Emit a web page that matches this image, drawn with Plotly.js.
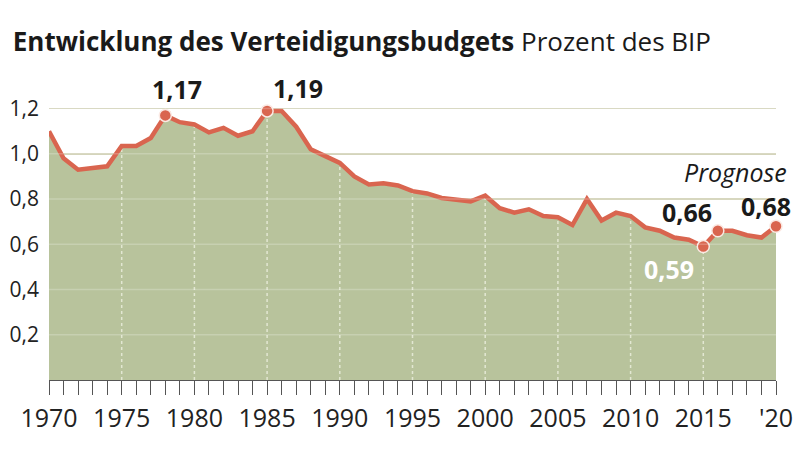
<!DOCTYPE html>
<html>
<head>
<meta charset="utf-8">
<script src="https://cdn.plot.ly/plotly-3.0.1.min.js"></script>
<style>html,body{margin:0;padding:0;background:#fff}#chart{width:800px;height:452px}</style>
</head>
<body>
<div id="chart"></div>
<script>
const years = [1970,1971,1972,1973,1974,1975,1976,1977,1978,1979,
               1980,1981,1982,1983,1984,1985,1986,1987,1988,1989,
               1990,1991,1992,1993,1994,1995,1996,1997,1998,1999,
               2000,2001,2002,2003,2004,2005,2006,2007,2008,2009,
               2010,2011,2012,2013,2014,2015,2016,2017,2018,2019,2020];
const budget = [1.10,0.98,0.93,0.94,0.945,1.035,1.035,1.07,1.17,1.14,
                1.13,1.095,1.115,1.08,1.10,1.19,1.19,1.12,1.02,0.99,
                0.96,0.90,0.865,0.87,0.86,0.835,0.825,0.805,0.795,0.79,
                0.815,0.76,0.74,0.755,0.725,0.72,0.685,0.80,0.705,0.74,
                0.725,0.675,0.66,0.63,0.62,0.59,0.66,0.66,0.64,0.63,0.68];
const yTicks = [0.2,0.4,0.6,0.8,1.0,1.2];
const yTickText = ['0,2','0,4','0,6','0,8','1,0','1,2'];
const labelYears = [1978,1985,2015,2016,2020];
const labelTexts = ['1,17','1,19','0,59','0,66','0,68'];
const guideYears = [1975,1980,1985,1990,1995,2000,2005,2010,2015];

const FONT = '"Open Sans", "DejaVu Sans", sans-serif';
const LINE = '#d9654f';
const FILL = '#b8c39c';

const valOf = y => budget[years.indexOf(y)];

// vertical dotted guides inside the area
const gx = [], gy = [];
guideYears.forEach(y => { gx.push(y, y, null); gy.push(0, valOf(y), null); });

// x ticks every year, labels every 5
const tickText = years.map(y => y % 5 === 0 ? (y === 2020 ? "'20" : String(y)) : '');

const traces = [
  {x: years, y: budget, type: 'scatter', mode: 'none', fill: 'tozeroy',
   fillcolor: FILL, hoverinfo: 'skip'},
  {x: gx, y: gy, type: 'scatter', mode: 'lines',
   line: {color: '#e2e7d2', width: 1.5, dash: '3px,3px'}, hoverinfo: 'skip'},
  {x: years, y: budget, type: 'scatter', mode: 'lines',
   line: {color: LINE, width: 4.5}, cliponaxis: false},
  {x: labelYears, y: labelYears.map(valOf), type: 'scatter', mode: 'markers',
   marker: {size: 12, color: LINE, line: {color: '#fbe9e3', width: 1.5}}, cliponaxis: false}
];

const annStyle = [
  {xshift: 12, yshift: 26, xanchor: 'center', color: '#1a1a1a'},
  {xshift: 4, yshift: 23, xanchor: 'left', color: '#1a1a1a'},
  {xshift: -7, yshift: -22, xanchor: 'right', color: '#ffffff'},
  {xshift: -4, yshift: 19, xanchor: 'right', color: '#1a1a1a'},
  {xshift: -10, yshift: 20, xanchor: 'center', color: '#1a1a1a'}
];
const annotations = labelYears.map((yr, i) => ({
  x: yr, y: valOf(yr), xref: 'x', yref: 'y', text: '<b>' + labelTexts[i] + '</b>',
  showarrow: false, xanchor: annStyle[i].xanchor, yanchor: 'middle',
  xshift: annStyle[i].xshift, yshift: annStyle[i].yshift,
  font: {family: FONT, size: 25, color: annStyle[i].color}
}));
annotations.push({
  x: 2020, y: valOf(2020), xref: 'x', yref: 'y', text: '<i>Prognose</i>',
  showarrow: false, xanchor: 'right', yanchor: 'middle', xshift: 13, yshift: 54,
  font: {family: FONT, size: 25, color: '#1a1a1a'}
});

// lighter grid lines over the filled area
const shapes = yTicks.map(v => ({
  type: 'line', xref: 'paper', yref: 'y', x0: 0, x1: 1, y0: v, y1: v,
  line: {color: 'rgba(255,255,255,0.22)', width: 1.5}, layer: 'above'
}));

const layout = {
  width: 800, height: 452,
  margin: {l: 49, r: 24, t: 86, b: 72},
  paper_bgcolor: '#ffffff', plot_bgcolor: '#ffffff',
  showlegend: false,
  separators: ',.',
  title: {
    text: '<b>Entwicklung des Verteidigungsbudgets</b> Prozent des BIP',
    x: 0.016, xanchor: 'left', xref: 'container',
    y: 0.907, yanchor: 'middle', yref: 'container',
    font: {family: FONT, size: 26, color: '#1a1a1a'}
  },
  xaxis: {
    range: [1970, 2020], tickmode: 'array', tickvals: years, ticktext: tickText,
    ticks: 'outside', ticklen: 14, tickwidth: 1, tickcolor: '#555',
    showline: true, linecolor: '#555', linewidth: 1,
    showgrid: false, zeroline: false, ticklabelstandoff: 2,
    tickfont: {family: FONT, size: 25, color: '#222'}
  },
  yaxis: {
    range: [0, 1.3], tickmode: 'array', tickvals: yTicks, ticktext: yTickText,
    showgrid: true, gridcolor: '#cfcfb3', gridwidth: 1.5,
    zeroline: false, showline: false, ticks: '', ticklabelstandoff: 9,
    tickfont: {family: FONT, size: 21, color: '#222'}
  },
  annotations: annotations,
  shapes: shapes
};

Plotly.newPlot('chart', traces, layout, {displayModeBar: false, staticPlot: true});
</script>
</body>
</html>
